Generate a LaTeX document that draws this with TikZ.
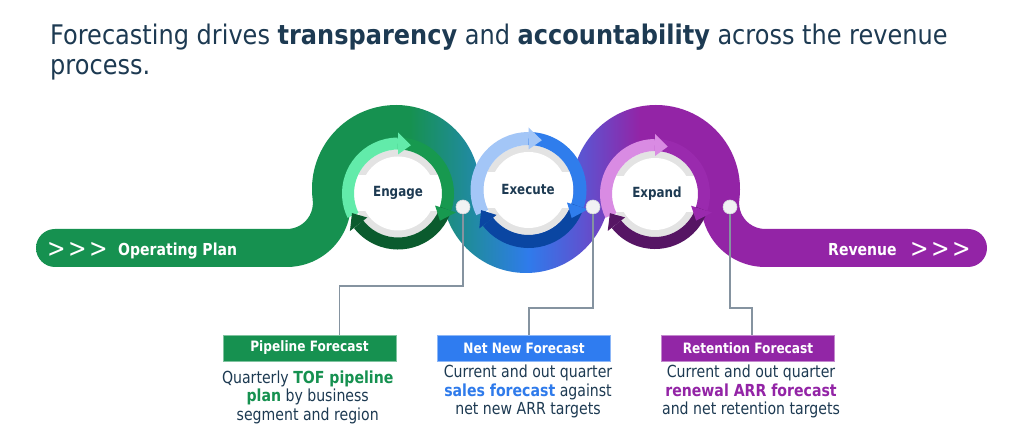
\documentclass[tikz,border=0pt]{standalone}
\usepackage{fontspec}
\setmainfont[FakeStretch=0.85]{DejaVu Sans}
\newfontfamily\titlefamily[FakeStretch=0.89]{DejaVu Sans}
\definecolor{navy}{HTML}{1D3A52}
\definecolor{gmain}{HTML}{169150}
\definecolor{cteal}{HTML}{218AA5}
\definecolor{bmain}{HTML}{2F7BEB}
\definecolor{cviol}{HTML}{5B55D2}
\definecolor{pmain}{HTML}{9324A6}
\definecolor{gl}{HTML}{62EBAA}
\definecolor{gm}{HTML}{17994F}
\definecolor{gd}{HTML}{0B5B2E}
\definecolor{bl}{HTML}{A3C6F7}
\definecolor{bm}{HTML}{2F7DEC}
\definecolor{bd}{HTML}{0A46A2}
\definecolor{pl}{HTML}{D98BE3}
\definecolor{pm}{HTML}{9A2AAE}
\definecolor{pd}{HTML}{561564}
\definecolor{ringgrey}{HTML}{E3E3E3}
\definecolor{linegrey}{HTML}{8593A0}
\definecolor{dotfill}{HTML}{F1F2F4}
\definecolor{dotedge}{HTML}{D3D7DC}
\definecolor{boxblue}{HTML}{2F7CF0}
\definecolor{boxpurple}{HTML}{9226A6}
\pgfdeclarehorizontalshading{ribbonshade}{100bp}{color(0bp)=(gmain); color(44.66bp)=(gmain); color(48.08bp)=(cteal); color(50.87bp)=(bmain); color(53.6bp)=(cviol); color(56.76bp)=(pmain); color(100bp)=(pmain)}
\newcommand{\cyclering}[7]{%
\begin{scope}[shift={(#1,#2)}]
 \pgfmathsetmacro{\rin}{#3-#4}
 \pgfmathsetmacro{\rmid}{#3-#4/2}
 \pgfmathsetmacro{\rcore}{#3-#4-7}
 \pgfmathsetmacro{\hlo}{#3-#4/2-11}
 \pgfmathsetmacro{\hhi}{#3-#4/2+11}
 \fill[ringgrey] (0,0) circle[radius=\rin];
 \fill[white] (0,0) circle[radius=\rcore];
 \begin{scope}
  \clip (0,0) circle[radius=\rin];
  \fill[white] (-\rin,-18) rectangle (\rin,18);
 \end{scope}
 \draw[#5, line width=#4] (206:\rmid) arc[start angle=206, end angle=90, radius=\rmid];
 \draw[#6, line width=#4] (90:\rmid) arc[start angle=90, end angle=-18, radius=\rmid];
 \draw[#7, line width=#4] (-18:\rmid) arc[start angle=-18, end angle=-142, radius=\rmid];
 \fill[#5] (90:\hlo) -- (90:\hhi) -- (75:\rmid) -- cycle;
 \fill[#6] (-18:\hlo) -- (-18:\hhi) -- (-33:\rmid) -- cycle;
 \fill[#7] (-142:\hlo) -- (-142:\hhi) -- (-157:\rmid) -- cycle;
\end{scope}}
\tikzset{
 conn/.style={draw=linegrey, line width=1.3pt},
 dotnode/.style={circle, fill=dotfill, draw=dotedge, line width=0.6pt, minimum size=14pt, inner sep=0pt},
 fbox/.style={minimum width=173pt, minimum height=26pt, inner sep=0pt, text=white, font=\fontsize{14.3}{16}\selectfont\bfseries, line width=0.8pt},
 desc/.style={align=center, text=navy, inner sep=0pt, font=\fontsize{16.6}{18.5}\selectfont},
 ringlabel/.style={text=navy, inner sep=0pt, font=\fontsize{14}{16}\selectfont\bfseries, anchor=base},
 bandtext/.style={text=white, inner sep=0pt, font=\fontsize{16.5}{18}\selectfont\bfseries, anchor=base west},
 chev/.style={text=white, inner sep=0pt, font=\fontsize{26}{26}\selectfont, anchor=base west},
 titletext/.style={text=navy, inner sep=0pt, anchor=base west, font=\titlefamily\fontsize{27}{30}\selectfont},
}
\begin{document}
\begin{tikzpicture}[x=1pt,y=1pt]
\useasboundingbox (0,0) rectangle (1030,435);
\fill[white] (0,0) rectangle (1030,435);
% title
\node[titletext] (t1) at (50,390) {Forecasting drives \textbf{transparency} and \textbf{accountability} across the revenue};
\node[titletext] (t2) at (50,360.7) {process.};
% ribbon
\begin{scope}
\clip (55,206) -- (286.9,206)
 arc[start angle=-90, end angle=7.312, radius=26]
 arc[start angle=187.312, end angle=0, radius=84]
 arc[start angle=180, end angle=360, radius=46]
 arc[start angle=180, end angle=-7.312, radius=84]
 arc[start angle=172.688, end angle=270, radius=26]
 -- (968,206) arc[start angle=90, end angle=-90, radius=19]
 -- (765.1,168)
 arc[start angle=270, end angle=172.688, radius=64]
 arc[start angle=-7.312, end angle=180, radius=46]
 arc[start angle=360, end angle=180, radius=84]
 arc[start angle=0, end angle=187.312, radius=46]
 arc[start angle=7.312, end angle=-90, radius=64]
 -- (55,168) arc[start angle=270, end angle=90, radius=19] -- cycle;
\shade[shading=ribbonshade] (36,150) rectangle (987,340);
\end{scope}
% band texts
\node[chev] (lchev) at (47,177) {>\hspace{2.5pt}>\hspace{2.5pt}>};
\node[bandtext] (optext) at (118,179) {Operating Plan};
\node[bandtext] (revtext) at (828,179) {Revenue};
\node[chev] (rchev) at (910,177) {>\hspace{2.5pt}>\hspace{2.5pt}>};
% rings
\cyclering{398}{241.5}{56}{12}{gl}{gm}{gd}
\cyclering{528.5}{245}{58}{13}{bl}{bm}{bd}
\cyclering{655}{241}{55}{12}{pl}{pm}{pd}
\node[ringlabel] (engage) at (398,238.3) {Engage};
\node[ringlabel] (execute) at (528,240) {Execute};
\node[ringlabel] (expand) at (657,237.3) {Expand};
% boxes
\node[fbox, fill=gmain, draw=gmain!55!white] (pbox) at (309.5,87) {Pipeline Forecast};
\node[fbox, fill=boxblue, draw=boxblue!55!white] (nbox) at (524,87) {Net New Forecast};
\node[fbox, fill=boxpurple, draw=boxpurple!55!white] (rbox) at (748,87) {Retention Forecast};
% descriptions
\node[desc] (pdesc) at (307.7,38) {Quarterly {\bfseries\color{gmain}TOF pipeline}\\{\bfseries\color{gmain}plan} by business\\segment and region};
\node[desc] (ndesc) at (528,43.5) {Current and out quarter\\{\bfseries\color{bmain}sales forecast} against\\net new ARR targets};
\node[desc] (rdesc) at (751,43.5) {Current and out quarter\\{\bfseries\color{pmain}renewal ARR forecast}\\and net retention targets};
% connectors
\node[dotnode] (d1) at (463,228) {};
\node[dotnode] (d2) at (593,228) {};
\node[dotnode] (d3) at (730,228) {};
\coordinate (k1) at (339.5,149);
\coordinate (k2) at (529,127);
\coordinate (k3) at (752,127);
\draw[conn] (d1) |- (k1) -- (k1 |- pbox.north);
\draw[conn] (d2) |- (k2) -- (k2 |- nbox.north);
\draw[conn] (d3) |- (k3) -- (k3 |- rbox.north);
\end{tikzpicture}
\end{document}
